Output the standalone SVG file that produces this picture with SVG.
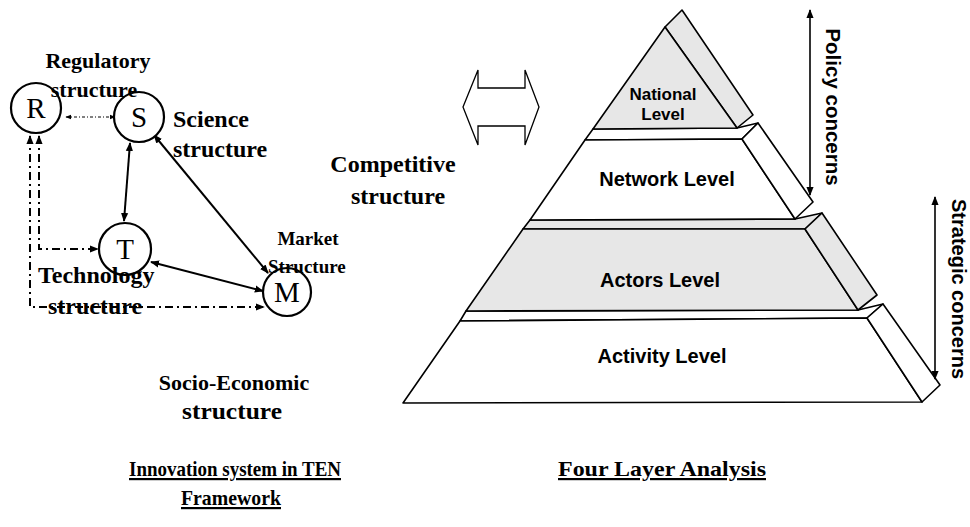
<svg xmlns="http://www.w3.org/2000/svg" width="970" height="527" viewBox="0 0 970 527">
<defs>
<style>
.lb{font-family:"Liberation Serif","Times New Roman",serif;font-weight:bold;fill:#000}
.ul{text-decoration:underline}
.ltr{font-family:"Liberation Serif","Times New Roman",serif;font-size:29px;fill:#000;text-anchor:middle}
.nd{fill:#fff;stroke:#000;stroke-width:2.2}
.sol{fill:none;stroke:#000;stroke-width:2;marker-start:url(#ah);marker-end:url(#ah)}
.dd{fill:none;stroke:#000;stroke-width:2;stroke-dasharray:8 4 2 4;marker-start:url(#ah);marker-end:url(#ah)}
.dt{fill:none;stroke:#000;stroke-width:1;stroke-dasharray:3 2 1 2;marker-start:url(#ahs);marker-end:url(#ahs)}
.vr{fill:none;stroke:#000;stroke-width:1.6;marker-start:url(#ah);marker-end:url(#ah)}
.pl{stroke:#000;stroke-width:1.6;stroke-linejoin:round}
.g{fill:#e7e7e7}
.w{fill:#fff}
.pt{font-family:"Liberation Sans",Arial,sans-serif;font-weight:bold;fill:#000;text-anchor:middle}
.dbl{fill:#fff;stroke:#000;stroke-width:1.3}
</style>
<marker id="ah" viewBox="0 0 10 10" refX="9" refY="5" markerWidth="9" markerHeight="9" markerUnits="userSpaceOnUse" orient="auto-start-reverse"><path d="M0,1 L10,5 L0,9 z"/></marker>
<marker id="ahs" viewBox="0 0 10 10" refX="9" refY="5" markerWidth="6" markerHeight="6" markerUnits="userSpaceOnUse" orient="auto-start-reverse"><path d="M0,1 L10,5 L0,9 z"/></marker>
</defs>
<rect width="970" height="527" fill="#fff"/>

<g id="connectors">
<line class="dt" x1="66" y1="117" x2="115" y2="117"/>
<line class="sol" x1="130" y1="143" x2="124" y2="221"/>
<line class="sol" x1="154" y1="135" x2="268" y2="273"/>
<line class="sol" x1="151" y1="262" x2="263" y2="291"/>
<path class="dd" d="M39,136 V249 H98"/>
<path class="dd" d="M30,136 V307 H264"/>
</g>

<g id="node-R"><circle class="nd" cx="36" cy="108" r="25"/><text class="ltr" x="36" y="118">R</text></g>
<g id="node-S"><circle class="nd" cx="139" cy="117" r="25"/><text class="ltr" x="139" y="127">S</text></g>
<g id="node-T"><circle class="nd" cx="125" cy="249" r="26"/><text class="ltr" x="125" y="259">T</text></g>
<g id="node-M"><circle class="nd" cx="287" cy="292" r="24"/><text class="ltr" x="287" y="302">M</text></g>

<g id="labels-left">
<text class="lb" x="98" y="68" font-size="22" text-anchor="middle">Regulatory</text>
<text class="lb" x="94" y="97" font-size="22" text-anchor="middle">structure</text>
<text class="lb" x="173" y="127" font-size="24">Science</text>
<text class="lb" x="173" y="157" font-size="24">structure</text>
<text class="lb" x="393" y="172" font-size="24" text-anchor="middle">Competitive</text>
<text class="lb" x="398" y="204" font-size="24" text-anchor="middle">structure</text>
<text class="lb" x="38" y="283" font-size="24">Technology</text>
<text class="lb" x="48" y="314" font-size="24">structure</text>
<text class="lb" x="308" y="245" font-size="19" text-anchor="middle">Market</text>
<text class="lb" x="268" y="273" font-size="19">Structure</text>
<text class="lb" x="234" y="390" font-size="22" text-anchor="middle">Socio-Economic</text>
<text class="lb" x="232" y="419" font-size="23" text-anchor="middle" textLength="100" lengthAdjust="spacingAndGlyphs">structure</text>
<text class="lb ul" x="235" y="476" font-size="22" text-anchor="middle" textLength="212" lengthAdjust="spacingAndGlyphs">Innovation system in TEN</text>
<text class="lb ul" x="231" y="505" font-size="22" text-anchor="middle" textLength="100" lengthAdjust="spacingAndGlyphs">Framework</text>
<text class="lb ul" x="662" y="476" font-size="22" text-anchor="middle" textLength="208" lengthAdjust="spacingAndGlyphs">Four Layer Analysis</text>
</g>

<g id="double-arrow">
<polygon class="dbl" points="463,107 478,70 478,88 525,88 525,70 539,107 525,145 525,126 478,126 478,145"/>
</g>

<g id="level-activity">
<polygon class="pl w" points="460,321 466,311 858,310 883,304 867,318"/>
<polygon class="pl w" points="460,321 867,318 922,402 403,403"/>
<polygon class="pl w" points="867,318 883,304 940,385 922,402"/>
<text class="pt" x="662" y="363" font-size="20">Activity Level</text>
</g>
<g id="level-actors">
<polygon class="pl g" points="523,229 530,220 795,219 822,213 805,229"/>
<polygon class="pl g" points="523,229 805,229 858,310 466,311"/>
<polygon class="pl g" points="805,229 822,213 877,295 858,310"/>
<text class="pt" x="660" y="287" font-size="20">Actors Level</text>
</g>
<g id="level-network">
<polygon class="pl w" points="585,140 593,129 737,128 758,123 742,139"/>
<polygon class="pl w" points="585,140 742,139 795,219 530,220"/>
<polygon class="pl w" points="742,139 758,123 813,202 795,219"/>
<text class="pt" x="667" y="186" font-size="20">Network Level</text>
</g>
<g id="level-national">
<polygon class="pl g" points="665,27 682,10 753,115 737,128"/>
<polygon class="pl g" points="665,27 737,128 593,129"/>
<text class="pt" x="663" y="100" font-size="17">National</text>
<text class="pt" x="663" y="120" font-size="17">Level</text>
</g>

<g id="concerns">
<line class="vr" x1="810" y1="10" x2="810" y2="195"/>
<text class="pt" font-size="20.5" transform="translate(826,107) rotate(90)">Policy concerns</text>
<line class="vr" x1="935" y1="197" x2="935" y2="379"/>
<text class="pt" font-size="20" transform="translate(952,289) rotate(90)">Strategic concerns</text>
</g>
</svg>
